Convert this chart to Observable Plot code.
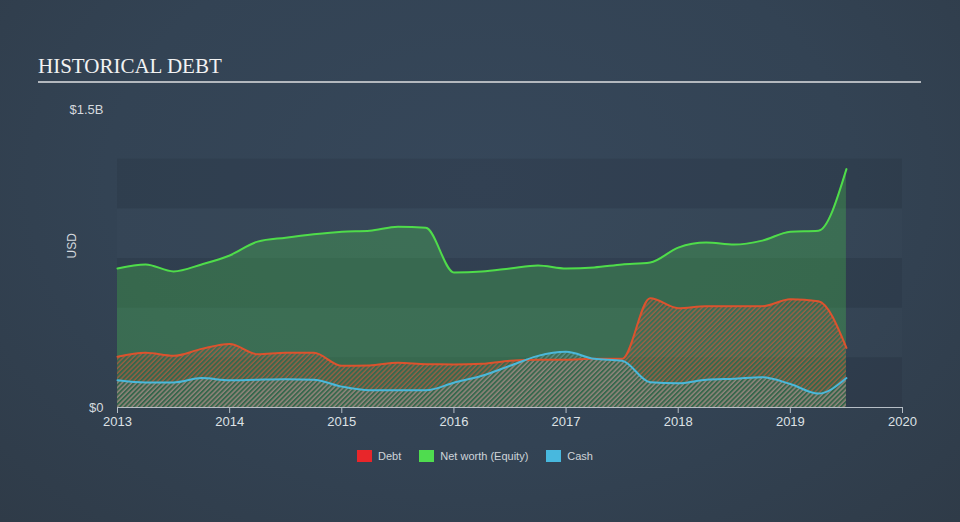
<!DOCTYPE html>
<html>
<head>
<meta charset="utf-8">
<script src="https://cdn.jsdelivr.net/npm/d3@7"></script>
<script src="https://cdn.jsdelivr.net/npm/@observablehq/plot@0.6"></script>
<style>
  html, body { margin: 0; padding: 0; }
  body {
    width: 960px; height: 522px; overflow: hidden; position: relative;
    background: radial-gradient(ellipse at 50% 35%, #36475a 0%, #334354 55%, #2f3b48 100%);
    font-family: "Liberation Sans", Arial, sans-serif;
  }
  #title { position: absolute; left: 38px; top: 54px; font: 21px "Liberation Serif", "Times New Roman", serif; color: #f2f2f2; }
  #rule { position: absolute; left: 38px; top: 81px; width: 883px; height: 2px; background: #b3b8be; }
  #chart { position: absolute; left: 0; top: 90px; }
  #legend { position: absolute; left: 0; top: 450px; width: 950px; display: flex; justify-content: center; align-items: center; font-size: 11px; color: #cfd4d9; }
  .item { display: flex; align-items: center; margin: 0 9px; }
  .sw { width: 15px; height: 12px; margin-right: 6px; }
</style>
</head>
<body>
<div id="title">HISTORICAL DEBT</div>
<div id="rule"></div>
<div id="chart"></div>
<div id="legend"></div>
<script>
// Quarterly dates (decimal years)
const t = [2013.0, 2013.25, 2013.5, 2013.75, 2014.0, 2014.25, 2014.5, 2014.75,
           2015.0, 2015.25, 2015.5, 2015.75, 2016.0, 2016.25, 2016.5, 2016.75,
           2017.0, 2017.25, 2017.5, 2017.75, 2018.0, 2018.25, 2018.5, 2018.75,
           2019.0, 2019.25, 2019.5];
// Values in USD billions
const equity = [0.70, 0.72, 0.685, 0.72, 0.765, 0.835, 0.855, 0.872,
                0.885, 0.89, 0.91, 0.905, 0.68, 0.685, 0.70, 0.715,
                0.70, 0.705, 0.72, 0.73, 0.805, 0.83, 0.82, 0.84,
                0.885, 0.89, 1.20];
const debt = [0.255, 0.275, 0.26, 0.295, 0.32, 0.268, 0.275, 0.275,
              0.21, 0.212, 0.225, 0.218, 0.217, 0.22, 0.235, 0.24,
              0.24, 0.245, 0.245, 0.55, 0.50, 0.51, 0.51, 0.51,
              0.545, 0.535, 0.30];
const cash = [0.137, 0.126, 0.126, 0.148, 0.137, 0.14, 0.142, 0.14,
              0.105, 0.087, 0.087, 0.087, 0.125, 0.16, 0.21, 0.26,
              0.28, 0.245, 0.235, 0.127, 0.122, 0.14, 0.145, 0.152,
              0.118, 0.07, 0.148];
const xTicks = [2013, 2014, 2015, 2016, 2017, 2018, 2019, 2020];
const yTicks = [0, 1.5];
const yTickLabels = ["$0", "$1.5B"];
const bandEdges = [0, 0.25, 0.5, 0.75, 1.0, 1.25];
const seriesNames = ["Debt", "Net worth (Equity)", "Cash"];
const legendColors = ["#e8262a", "#4fdc4f", "#48b8de"];

const rows = t.map((d, i) => ({t: d, equity: equity[i], debt: debt[i], cash: cash[i]}));
const bands = bandEdges.slice(0, -1).map((y1, i) => ({y1, y2: bandEdges[i + 1], dark: i % 2 === 0}));

const curve = "monotone-x";
const chart = Plot.plot({
  width: 960,
  height: 347,
  marginLeft: 117,
  marginRight: 58,
  marginTop: 19,
  marginBottom: 30,
  style: {background: "transparent", color: "#d4d9de", fontFamily: "'Liberation Sans', Arial, sans-serif", fontSize: "13px"},
  x: {domain: [2013, 2020]},
  y: {domain: [0, 1.5]},
  marks: [
    Plot.rect(bands.filter(d => d.dark), {x1: xTicks[0], x2: xTicks[xTicks.length - 1], y1: "y1", y2: "y2", fill: "#1c2733", fillOpacity: 0.16}),
    Plot.rect(bands.filter(d => !d.dark), {x1: xTicks[0], x2: xTicks[xTicks.length - 1], y1: "y1", y2: "y2", fill: "#ffffff", fillOpacity: 0.012}),
    Plot.areaY(rows, {x: "t", y: "equity", curve, fill: "#4cd94c", fillOpacity: 0.27}),
    Plot.areaY(rows, {x: "t", y: "debt", curve, fill: "url(#hatchRed)"}),
    Plot.areaY(rows, {x: "t", y: "cash", curve, fill: "url(#hatchBlue)"}),
    Plot.lineY(rows, {x: "t", y: "equity", curve, stroke: "#4fdc4a", strokeWidth: 2}),
    Plot.lineY(rows, {x: "t", y: "debt", curve, stroke: "#dc532e", strokeWidth: 2}),
    Plot.lineY(rows, {x: "t", y: "cash", curve, stroke: "#4ab8da", strokeWidth: 2}),
    Plot.ruleY([0], {stroke: "#b6bec6", strokeWidth: 1}),
    Plot.axisX({ticks: xTicks, tickFormat: d => String(d), tickSize: 6, tickPadding: 3, stroke: "#b6bec6", color: "#dde1e5", label: null, fontSize: 13}),
    Plot.axisY({ticks: yTicks, tickFormat: (d, i) => yTickLabels[i], tickSize: 0, tickPadding: 14, label: null, color: "#d4d9de", fontSize: 13}),
    Plot.text(["USD"], {frameAnchor: "left", dx: -45, rotate: -90, fill: "#d4d9de", fontSize: 12})
  ]
});

const svg = d3.select(chart);
const defs = svg.insert("defs", ":first-child");
function hatch(id, color, opacity) {
  const p = defs.append("pattern").attr("id", id).attr("patternUnits", "userSpaceOnUse")
    .attr("width", 3.4).attr("height", 3.4).attr("patternTransform", "rotate(45)");
  p.append("line").attr("x1", 1).attr("y1", 0).attr("x2", 1).attr("y2", 3.4)
    .attr("stroke", color).attr("stroke-width", 1.3).attr("stroke-opacity", opacity);
}
hatch("hatchRed", "#d9583a", 0.65);
hatch("hatchBlue", "#7fb3c4", 0.5);

document.getElementById("chart").appendChild(chart);

const legend = document.getElementById("legend");
seriesNames.forEach((name, i) => {
  const item = document.createElement("div");
  item.className = "item";
  const sw = document.createElement("div");
  sw.className = "sw";
  sw.style.background = legendColors[i];
  const label = document.createElement("span");
  label.textContent = name;
  item.appendChild(sw);
  item.appendChild(label);
  legend.appendChild(item);
});
</script>
</body>
</html>
